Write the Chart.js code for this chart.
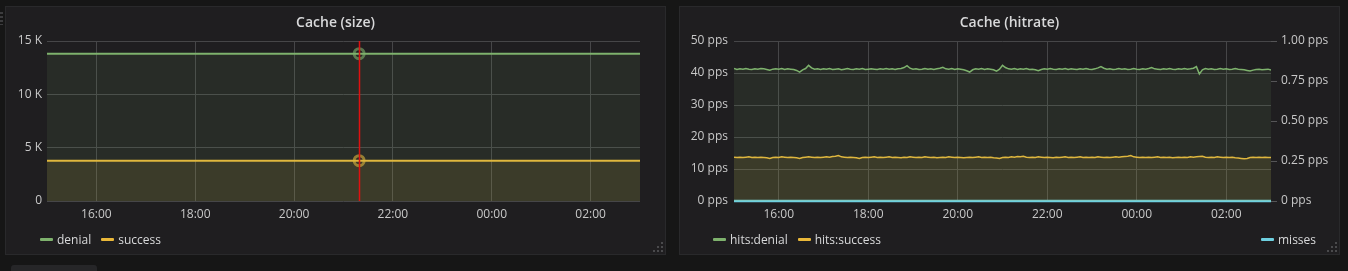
<!DOCTYPE html>
<html><head><meta charset="utf-8">
<script src="https://cdn.jsdelivr.net/npm/chart.js@4.4.1/dist/chart.umd.min.js"></script>
<style>
html,body{margin:0;padding:0;background:#161616;width:1348px;height:271px;overflow:hidden;font-family:"Open Sans",sans-serif;}
.panel{position:absolute;top:6px;width:661px;height:249px;box-sizing:border-box;border:1px solid #29292b;background:#1f1e20;}
.panel canvas{position:absolute;left:0;top:0;}
.title{position:absolute;top:5px;left:0;right:0;text-align:center;color:#d8d9da;font-size:14px;font-weight:600;line-height:19px;}
.legend{position:absolute;top:223px;height:18px;font-size:12px;color:#d8d9da;display:flex;align-items:center;white-space:nowrap;}
.legend .item{display:flex;align-items:center;margin-right:10px;}
.legend .icon{width:13px;height:3px;margin-right:4px;border-radius:1px;}
.dot{position:absolute;width:2px;height:2px;background:#4a4a4c;}
.handle{position:absolute;left:0;top:12px;width:3px;height:13px;background:repeating-linear-gradient(#3c3c3e 0 2px,transparent 2px 4px);}
.rowbtn{position:absolute;left:11px;top:265px;width:86px;height:12px;background:#262628;border-radius:3px;}
</style>
</head><body>
<div class="handle"></div>
<div class="panel" id="p1" style="left:5px;">
  <canvas id="c1" width="659" height="247"></canvas>
  <div class="title">Cache (size)</div>
  <div class="legend" id="lg1" style="left:34px;"></div>
</div>
<div class="panel" id="p2" style="left:679px;">
  <canvas id="c2" width="659" height="247"></canvas>
  <div class="title">Cache (hitrate)</div>
  <div class="legend" id="lg2" style="left:33px;"></div>
  <div class="legend" id="lg3" style="left:581px;"></div>
</div>
<div class="rowbtn"></div>
<script>
// ---------- data ----------
// time axis in hours (24+ = next day)
const axisStart = 15;           // 15:00
const axisEnd = 27;             // 03:00 next day
const timeTicks = [16, 18, 20, 22, 24, 26];

// Panel 1: Cache (size)
const hoverTime = 21 + 19 / 60;  // crosshair position 21:19
const sizeTimes = [15, hoverTime, 27];
const sizeDenial = [13810, 13810, 13810];
const sizeSuccess = [3780, 3780, 3780];
const sizeTicks = [0, 5000, 10000, 15000];

// Panel 2: Cache (hitrate), one sample every 4 minutes from 15:00
const rateStepMinutes = 4;
const hitsDenial = [
41.4,41.1,41.3,41.2,41.4,41.2,41.1,41.3,41.2,41.4,
41.3,41.1,40.9,41.2,41.3,41.2,41.4,41.1,41.3,41.2,
41.1,40.8,40.3,41.0,41.4,42.4,41.6,41.2,41.3,41.1,
41.3,41.2,41.4,41.1,41.2,41.3,41.0,41.2,41.4,41.2,
41.1,41.3,41.2,41.4,41.1,41.2,41.3,41.2,41.1,41.3,
41.2,41.4,41.2,41.3,41.1,41.3,41.4,41.7,42.3,41.5,
41.2,41.3,41.1,41.2,41.4,41.2,41.3,41.1,41.3,41.5,
41.8,41.3,41.2,41.4,41.1,41.3,41.2,41.0,40.7,40.3,
41.0,41.3,41.2,41.4,41.1,41.3,41.2,41.0,40.6,41.2,
42.4,41.7,41.3,41.2,41.4,41.1,41.3,41.2,41.4,41.1,
41.2,41.0,40.7,41.1,41.3,41.2,41.4,41.2,41.1,41.3,
41.2,41.4,41.1,41.3,41.2,41.1,41.3,41.2,41.4,41.2,
41.1,41.3,41.6,42.0,41.5,41.2,41.3,41.1,41.2,41.4,
41.2,41.3,41.1,41.2,41.4,41.2,41.1,41.3,41.2,41.4,
41.7,41.3,41.2,41.1,41.3,41.2,41.4,41.2,41.1,41.3,
41.2,41.4,41.2,41.3,41.5,42.0,39.7,41.0,41.4,41.2,
41.3,41.1,41.2,41.4,41.2,41.3,41.1,41.2,41.4,41.2,
41.1,41.0,40.8,40.6,40.9,41.1,41.2,41.0,41.1,41.2,
40.9];
const hitsSuccess = [
13.7,13.6,13.7,13.6,13.7,13.8,13.6,13.7,13.6,13.7,
13.6,13.5,13.3,13.6,13.7,13.6,13.8,13.7,13.6,13.7,
13.6,13.5,13.3,13.6,13.7,13.8,13.7,13.6,13.7,13.6,
13.7,13.8,13.7,13.9,14.0,14.2,13.8,13.7,13.6,13.7,
13.6,13.5,13.3,13.6,13.7,13.6,13.7,13.8,13.6,13.7,
13.6,13.7,13.8,13.6,13.7,13.6,13.5,13.7,13.6,13.8,
13.7,13.6,13.7,13.6,13.8,13.7,13.6,13.7,13.5,13.6,
13.7,13.6,13.8,13.7,13.6,13.7,13.6,13.5,13.6,13.7,
13.6,13.7,13.8,13.6,13.7,13.6,13.7,13.5,13.4,13.3,
13.6,13.7,13.6,13.8,13.7,13.9,13.8,14.0,13.7,13.6,
13.7,13.6,13.8,13.7,13.6,13.7,13.6,13.5,13.7,13.6,
13.7,13.8,13.6,13.7,13.6,13.7,13.8,13.6,13.7,13.6,
13.7,13.6,13.8,13.7,13.6,13.7,13.6,13.7,13.8,13.7,
13.8,13.9,14.0,14.2,13.8,13.7,13.6,13.7,13.6,13.7,
13.6,13.7,13.8,13.6,13.7,13.6,13.7,13.5,13.6,13.7,
13.6,13.7,13.6,13.8,13.7,13.8,13.9,14.0,13.7,13.6,
13.7,13.6,13.8,13.7,13.6,13.7,13.6,13.7,13.5,13.4,
13.3,13.2,13.3,13.6,13.7,13.6,13.7,13.6,13.7,13.6,
13.6];
const missesTimes = [15, 27];
const misses = [0, 0];
const rateTicksLeft = [0, 10, 20, 30, 40, 50];
const rateTicksRight = [0, 0.25, 0.5, 0.75, 1.0];

// ---------- styling ----------
const GREEN = '#7eb26d', YELLOW = '#eab839', CYAN = '#6ed0e0';
const GRID = '#464648';
const TICKC = '#c8c8c8';
Chart.defaults.font.family = '"Open Sans", sans-serif';
Chart.defaults.font.size = 12;
Chart.defaults.color = TICKC;
Chart.defaults.animation = false;

function rgba(hex, a){const n=parseInt(hex.slice(1),16);return `rgba(${n>>16},${(n>>8)&255},${n&255},${a})`;}
function hhmm(v){const h=((v%24)+24)%24;return String(h).padStart(2,'0')+':00';}
function pts(xs, ys){return ys.map((y,i)=>({x:xs[i],y}));}
const rateTimes = hitsDenial.map((_,i)=>axisStart + i*rateStepMinutes/60);

function xAxis(){
  return {type:'linear',min:axisStart,max:axisEnd,
    afterBuildTicks:s=>{s.ticks=timeTicks.map(v=>({value:v}));},
    afterFit:s=>{s.height=22;},
    grid:{color:GRID,drawTicks:false,lineWidth:1},
    border:{display:false},
    ticks:{padding:6,color:TICKC,maxRotation:0,autoSkip:false,callback:v=>hhmm(v)}};
}

const crosshair = {id:'crosshair',
  afterDraw(chart){
    const ctx=chart.ctx,{top,bottom}=chart.chartArea;
    const x=Math.round(chart.scales.x.getPixelForValue(hoverTime));
    ctx.save();
    ctx.globalAlpha=1;
    ctx.fillStyle='#e01010';
    ctx.fillRect(x-0.25,top,1.5,bottom-top);
    ctx.restore();
  }};

// ---------- chart 1 ----------
const hoverRadius = sizeTimes.map(t=>t===hoverTime?5:0);
new Chart(document.getElementById('c1'),{
  type:'line',
  data:{datasets:[
    {label:'denial',data:pts(sizeTimes,sizeDenial),borderColor:GREEN,backgroundColor:rgba(GREEN,0.1),
     fill:'origin',borderWidth:2,pointRadius:hoverRadius,pointBorderWidth:3,
     pointBorderColor:rgba(GREEN,0.6),pointBackgroundColor:'rgba(0,0,0,0)',tension:0},
    {label:'success',data:pts(sizeTimes,sizeSuccess),borderColor:YELLOW,backgroundColor:rgba(YELLOW,0.1),
     fill:'origin',borderWidth:2,pointRadius:hoverRadius,pointBorderWidth:3,
     pointBorderColor:rgba(YELLOW,0.6),pointBackgroundColor:'rgba(0,0,0,0)',tension:0}
  ]},
  options:{responsive:false,
    layout:{padding:{left:0,right:25,top:34,bottom:31}},
    plugins:{legend:{display:false},tooltip:{enabled:false}},
    scales:{
      x:xAxis(),
      y:{min:0,max:15000,afterBuildTicks:s=>{s.ticks=sizeTicks.map(v=>({value:v}));},
        afterFit:s=>{s.width=41;},
        grid:{color:GRID,drawTicks:false},border:{display:false},
        ticks:{padding:5,color:TICKC,callback:v=>v===0?'0':(v/1000)+' K'}}
    }},
  plugins:[crosshair]
});

// ---------- chart 2 ----------
new Chart(document.getElementById('c2'),{
  type:'line',
  data:{datasets:[
    {label:'hits:denial',data:pts(rateTimes,hitsDenial),borderColor:GREEN,backgroundColor:rgba(GREEN,0.1),
     fill:'origin',borderWidth:1.5,pointRadius:0,tension:0,yAxisID:'y'},
    {label:'hits:success',data:pts(rateTimes,hitsSuccess),borderColor:YELLOW,backgroundColor:rgba(YELLOW,0.1),
     fill:'origin',borderWidth:1.5,pointRadius:0,tension:0,yAxisID:'y'},
    {label:'misses',data:pts(missesTimes,misses),borderColor:CYAN,backgroundColor:rgba(CYAN,0.1),
     fill:'origin',borderWidth:2.5,pointRadius:0,tension:0,yAxisID:'y2',clip:4}
  ]},
  options:{responsive:false,
    layout:{padding:{left:0,right:0,top:34,bottom:31}},
    plugins:{legend:{display:false},tooltip:{enabled:false}},
    scales:{
      x:xAxis(),
      y:{position:'left',min:0,max:50,afterBuildTicks:s=>{s.ticks=rateTicksLeft.map(v=>({value:v}));},
        afterFit:s=>{s.width=54;},
        grid:{color:GRID,drawTicks:false},border:{display:false},
        ticks:{padding:6,color:TICKC,callback:v=>v+' pps'}},
      y2:{position:'right',min:0,max:1,afterBuildTicks:s=>{s.ticks=rateTicksRight.map(v=>({value:v}));},
        afterFit:s=>{s.width=68;},
        grid:{color:'#555557',drawOnChartArea:false,drawTicks:true,tickLength:6},border:{display:false},
        ticks:{padding:4,color:TICKC,callback:v=>v===0?'0 pps':v.toFixed(2)+' pps'}}
    }}
});

// ---------- legends ----------
function legend(id, items){
  document.getElementById(id).innerHTML = items.map(([name,color])=>
    `<span class="item"><span class="icon" style="background:${color}"></span>${name}</span>`).join('');
}
legend('lg1',[['denial',GREEN],['success',YELLOW]]);
legend('lg2',[['hits:denial',GREEN],['hits:success',YELLOW]]);
legend('lg3',[['misses',CYAN]]);

// resize handles
[['p1'],['p2']].forEach(([pid])=>{
  const p=document.getElementById(pid);
  const spots=[[0,0],[0,1],[1,1],[0,2],[1,2],[2,2]];
  spots.forEach(([c,r])=>{const d=document.createElement('div');d.className='dot';
    d.style.right=(2+c*4)+'px';d.style.bottom=(2+(2-r)*4)+'px';p.appendChild(d);});
});
</script>
</body></html>
